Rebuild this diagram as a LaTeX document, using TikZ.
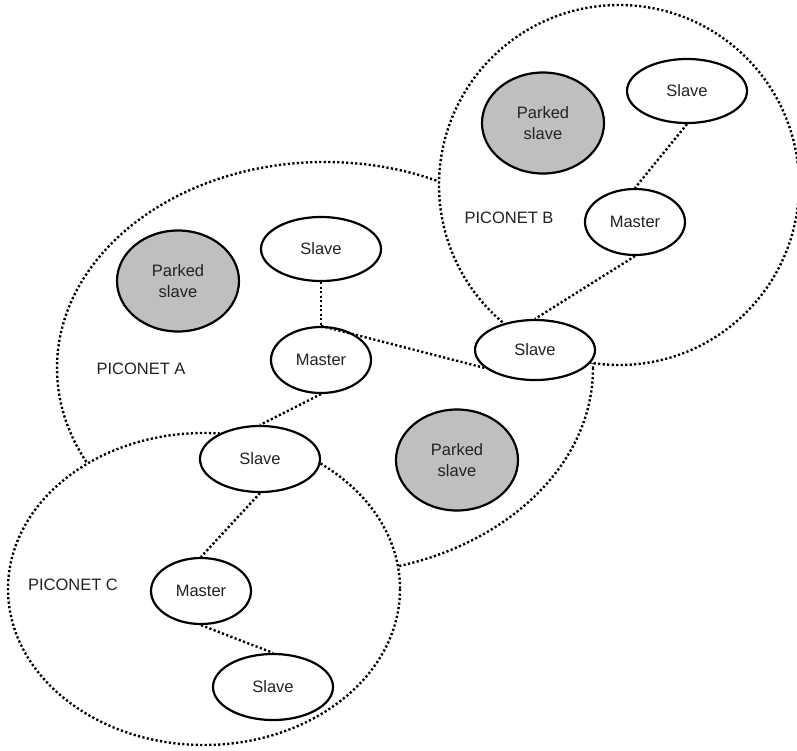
\documentclass[tikz,border=0pt]{standalone}
\usepackage{fontspec}
\setmainfont{Liberation Sans}
\usetikzlibrary{shapes.geometric}
\definecolor{parkgray}{HTML}{BFBFBF}
\definecolor{txt}{HTML}{222222}
\tikzset{
  dotline/.style={line width=2.4pt, dash pattern=on 2.2pt off 2.3pt, black},
  area/.style={dotline, fill=white},
  dev/.style={ellipse, draw=black, line width=2.2pt, fill=white, inner sep=0pt,
              text=txt, font=\fontsize{16.5}{21}\selectfont, align=center},
  slavebox/.style={dev, minimum width=120pt, minimum height=64pt},
  masterbox/.style={dev, minimum width=100pt, minimum height=66pt},
  parkbox/.style={dev, fill=parkgray, minimum width=122pt, minimum height=101pt},
  netlabel/.style={text=txt, font=\fontsize{16.5}{21}\selectfont, inner sep=0pt}
}
\begin{document}
\begin{tikzpicture}[x=1pt,y=-1pt]
\useasboundingbox (0,0) rectangle (797,750);
\fill[white] (0,0) rectangle (797,750);
% piconet outlines
\begin{scope}
\clip (0,0) rectangle (797,750);
\draw[dotline] (325,368) ellipse [x radius=268, y radius=206];
\draw[area] (619,185) circle [radius=180];
\draw[area] (204,589) ellipse [x radius=196, y radius=156];
\end{scope}
% devices
\node[parkbox] (pB) at (543,123) {Parked\\slave};
\node[slavebox] (sBt) at (687,91) {Slave};
\node[masterbox] (mB) at (635,222) {Master};
\node[slavebox, minimum height=60pt] (sAB) at (535,350) {Slave};
\node[parkbox] (pA) at (178,281) {Parked\\slave};
\node[slavebox] (sAt) at (321,249) {Slave};
\node[masterbox] (mA) at (321,360) {Master};
\node[parkbox] (pA2) at (457,460) {Parked\\slave};
\node[slavebox, minimum height=66pt] (sAC) at (260,459) {Slave};
\node[masterbox] (mC) at (201,591) {Master};
\node[slavebox, minimum height=66pt] (sC) at (273,687) {Slave};
% labels
\node[netlabel] (lB) at (509,218) {PICONET B};
\node[netlabel] (lA) at (141,369) {PICONET A};
\node[netlabel] (lC) at (73,585) {PICONET C};
% links
\draw[dotline] (sBt.south) -- (mB.north);
\draw[dotline] (mB.south) -- (sAB.north);
\draw[dotline] (sAt.south) -- (mA.north);
\draw[dotline] (mA.north) -- (sAB.200);
\draw[dotline] (mA.south) -- (sAC.north);
\draw[dotline] (sAC.south) -- (mC.north);
\draw[dotline] (mC.south) -- (sC.north);
\end{tikzpicture}
\end{document}
